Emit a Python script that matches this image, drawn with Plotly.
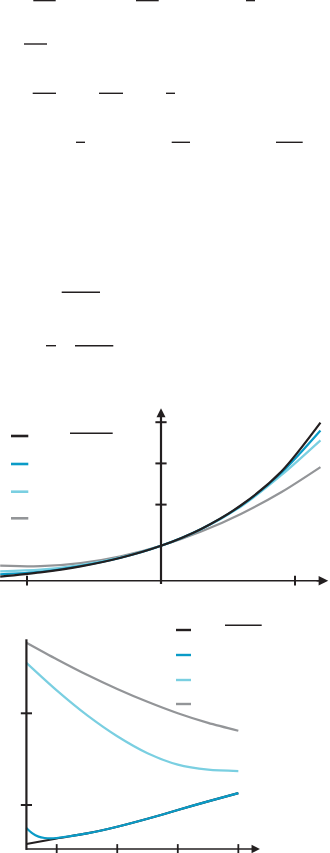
import plotly.graph_objects as go

W, H = 330, 853

# ---------------- data ----------------
# Chart 1: function and three approximations
x_top = [-1.2, -0.9, -0.6, -0.3, 0.0, 0.3, 0.6, 0.9, 1.19]
top_exact = [0.25, 0.355, 0.50, 0.71, 1.0, 1.41, 1.99, 2.81, 3.99]
top_dark = [0.31, 0.37, 0.51, 0.71, 1.0, 1.41, 1.98, 2.78, 3.80]
top_light = [0.38, 0.42, 0.53, 0.72, 1.0, 1.40, 1.96, 2.72, 3.56]
top_gray = [0.52, 0.505, 0.58, 0.745, 1.0, 1.345, 1.78, 2.305, 2.91]
top_xticks = [-1, 1]
top_yticks = [2, 3, 4]

# Chart 2
x_bot = [0.5, 1.0, 1.5, 2.0, 2.5, 3.0, 3.5, 4.0]
bot_exact = [0.575, 0.635, 0.69, 0.763, 0.85, 0.945, 1.04, 1.13]
x_bot_dark = [0.5, 0.6, 0.7, 0.8, 0.9, 1.0, 1.5, 2.0, 2.5, 3.0, 3.5, 4.0]
bot_dark = [0.75, 0.69, 0.655, 0.64, 0.635, 0.64, 0.69, 0.763, 0.85, 0.945, 1.04, 1.13]
bot_light = [2.55, 2.25, 1.98, 1.75, 1.565, 1.44, 1.385, 1.37]
bot_gray = [2.77, 2.59, 2.42, 2.265, 2.125, 2.0, 1.895, 1.81]
bot_xticks = [1, 2, 3, 4]
bot_yticks = [1, 2]

# ---------------- styles ----------------
INK = "#231f20"
DARK = "#0a9bc7"
LIGHT = "#7acfe1"
GRAY = "#939598"


def px(p):
    return p / W


def py(p):
    return 1 - p / H


fig = go.Figure()

# chart 1 curves
for ys, col in [(top_gray, GRAY), (top_light, LIGHT), (top_dark, DARK), (top_exact, INK)]:
    fig.add_trace(go.Scatter(x=x_top, y=ys, mode="lines",
                             line=dict(color=col, width=2.2, shape="spline", smoothing=0.8),
                             xaxis="x", yaxis="y", hoverinfo="skip", showlegend=False))

# chart 2 curves
fig.add_trace(go.Scatter(x=x_bot, y=bot_exact, mode="lines",
                         line=dict(color=INK, width=2.2, shape="spline", smoothing=0.8),
                         xaxis="x2", yaxis="y2", hoverinfo="skip", showlegend=False))
fig.add_trace(go.Scatter(x=x_bot_dark, y=bot_dark, mode="lines",
                         line=dict(color=DARK, width=2.2, shape="spline", smoothing=0.8),
                         xaxis="x2", yaxis="y2", hoverinfo="skip", showlegend=False))
for ys, col in [(bot_light, LIGHT), (bot_gray, GRAY)]:
    fig.add_trace(go.Scatter(x=x_bot, y=ys, mode="lines",
                             line=dict(color=col, width=2.2, shape="spline", smoothing=0.8),
                             xaxis="x2", yaxis="y2", hoverinfo="skip", showlegend=False))

# ---------------- axes (drawn) ----------------
x1_axis_y = 0.153
x2_axis_y = 0.52
x2_axis_x = 0.5

# chart 1 y-axis line
fig.add_trace(go.Scatter(x=[0, 0], y=[0.073, 4.2], mode="lines",
                         line=dict(color=INK, width=2.2), xaxis="x", yaxis="y",
                         hoverinfo="skip", showlegend=False))
# chart 1 x-axis line
fig.add_trace(go.Scatter(x=[-1.21, 1.2], y=[x1_axis_y, x1_axis_y], mode="lines",
                         line=dict(color=INK, width=1.6), xaxis="x", yaxis="y",
                         hoverinfo="skip", showlegend=False))
# chart 1 ticks
fig.add_trace(go.Scatter(x=[0] * len(top_yticks), y=top_yticks, mode="markers",
                         marker=dict(symbol="line-ew", size=8, line=dict(color=INK, width=2)),
                         xaxis="x", yaxis="y", hoverinfo="skip", showlegend=False))
fig.add_trace(go.Scatter(x=top_xticks, y=[x1_axis_y] * len(top_xticks), mode="markers",
                         marker=dict(symbol="line-ns", size=7, line=dict(color=INK, width=2)),
                         xaxis="x", yaxis="y", hoverinfo="skip", showlegend=False))

# chart 2 y-axis line
fig.add_trace(go.Scatter(x=[x2_axis_x, x2_axis_x], y=[x2_axis_y - 0.01, 2.807], mode="lines",
                         line=dict(color=INK, width=2.2), xaxis="x2", yaxis="y2",
                         hoverinfo="skip", showlegend=False))
fig.add_trace(go.Scatter(x=[x2_axis_x, 4.25], y=[x2_axis_y, x2_axis_y], mode="lines",
                         line=dict(color=INK, width=1.4), xaxis="x2", yaxis="y2",
                         hoverinfo="skip", showlegend=False))
fig.add_trace(go.Scatter(x=[x2_axis_x] * len(bot_yticks), y=bot_yticks, mode="markers",
                         marker=dict(symbol="line-ew", size=8, line=dict(color=INK, width=2)),
                         xaxis="x2", yaxis="y2", hoverinfo="skip", showlegend=False))
fig.add_trace(go.Scatter(x=bot_xticks, y=[x2_axis_y] * len(bot_xticks), mode="markers",
                         marker=dict(symbol="line-ns", size=7, line=dict(color=INK, width=1.8)),
                         xaxis="x2", yaxis="y2", hoverinfo="skip", showlegend=False))

annotations = [
    dict(x=0, y=4.337, ax=0, ay=4.0, xref="x", yref="y", axref="x", ayref="y",
         text="", showarrow=True, arrowhead=2, arrowsize=0.9, arrowwidth=2, arrowcolor=INK),
    dict(x=1.248, y=x1_axis_y, ax=1.15, ay=x1_axis_y, xref="x", yref="y", axref="x", ayref="y",
         text="", showarrow=True, arrowhead=2, arrowsize=1.2, arrowwidth=1.6, arrowcolor=INK),
    dict(x=4.357, y=x2_axis_y, ax=4.2, ay=x2_axis_y, xref="x2", yref="y2", axref="x2", ayref="y2",
         text="", showarrow=True, arrowhead=2, arrowsize=1.2, arrowwidth=1.4, arrowcolor=INK),
]

# ---------------- decorative shapes (fraction bars, legend keys) ----------------
fraction_bars = [
    (0.6, 33.3, 55.7), (0.6, 136, 158.7), (0.6, 246, 255),
    (44, 24, 47),
    (93.3, 32.7, 56), (93.3, 99, 123), (93.3, 166, 175),
    (142.3, 76, 85), (142.3, 171.7, 190), (142.3, 276, 302.7),
    (292.3, 61.7, 100),
    (345.7, 46, 56), (345.7, 75, 113.3),
    (433.3, 70, 112.7),
    (625.3, 225, 261.7),
]
shapes = []
for yy, x0, x1 in fraction_bars:
    shapes.append(dict(type="line", xref="paper", yref="paper",
                       x0=px(x0), x1=px(x1), y0=py(yy), y1=py(yy),
                       line=dict(color=INK, width=1.4)))

legend_cols = [INK, DARK, LIGHT, GRAY]
for yy, col in zip([436, 464, 491.7, 518.3], legend_cols):
    shapes.append(dict(type="line", xref="paper", yref="paper",
                       x0=px(11), x1=px(28.3), y0=py(yy), y1=py(yy),
                       line=dict(color=col, width=2.6)))
for yy, col in zip([630, 655, 680, 704], legend_cols):
    shapes.append(dict(type="line", xref="paper", yref="paper",
                       x0=px(176), x1=px(191), y0=py(yy), y1=py(yy),
                       line=dict(color=col, width=2.4)))

ax_common = dict(visible=False, showgrid=False, zeroline=False, fixedrange=True)

fig.update_layout(
    width=W, height=H,
    margin=dict(l=0, r=0, t=0, b=0),
    paper_bgcolor="white", plot_bgcolor="rgba(0,0,0,0)",
    showlegend=False,
    xaxis=dict(domain=[0, 1], range=[-1.2015, 1.2612], anchor="y", **ax_common),
    yaxis=dict(domain=[1 - 600 / H, 1 - 400 / H], range=[-0.3155, 4.539], anchor="x", **ax_common),
    xaxis2=dict(domain=[0, 1], range=[0.0636, 5.514], anchor="y2", **ax_common),
    yaxis2=dict(domain=[0, 1 - 610 / H], range=[0.4766, 3.1265], anchor="x2", **ax_common),
    shapes=shapes,
    annotations=annotations,
)

fig.write_html("out.html")
